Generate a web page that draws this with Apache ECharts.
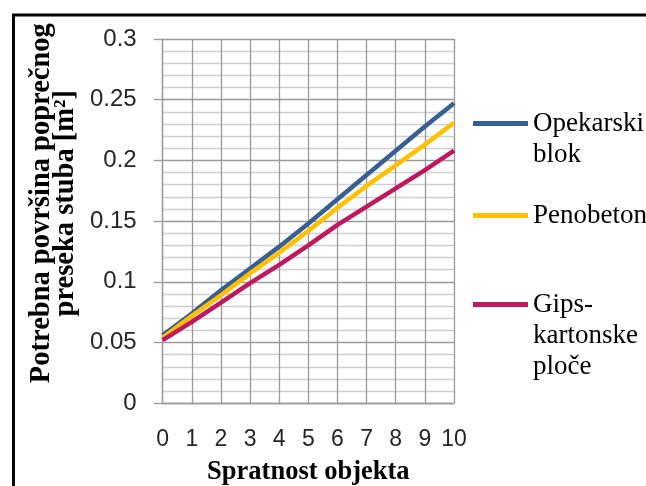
<!DOCTYPE html>
<html><head><meta charset="utf-8">
<script src="https://cdn.jsdelivr.net/npm/echarts@6/dist/echarts.min.js"></script>
<style>html,body{margin:0;padding:0;background:#fff}#c{width:646px;height:486px}</style>
</head><body><div id="c"></div>
<script>
const categories = ['0','1','2','3','4','5','6','7','8','9','10'];
const opekarski = [0.056, 0.074, 0.093, 0.111, 0.129, 0.148, 0.168, 0.188, 0.208, 0.228, 0.247];
const penobeton = [0.054, 0.072, 0.089, 0.107, 0.124, 0.142, 0.161, 0.179, 0.196, 0.213, 0.231];
const gips = [0.052, 0.067, 0.083, 0.099, 0.114, 0.130, 0.147, 0.162, 0.177, 0.192, 0.208];
const seriesNames = ['Opekarski\nblok', 'Penobeton', 'Gips-\nkartonske\nploče'];
const colors = ['#376092', '#FFC000', '#C0185F'];
const yTitle = 'Potrebna površina poprečnog\npreseka stuba [m²]';
const xTitle = 'Spratnost objekta';

const chart = echarts.init(document.getElementById('c'), null, {renderer: 'canvas'});
const L = 31;
const serif = '"Liberation Serif", "Times New Roman", serif';
const sans = '"Liberation Sans", Arial, sans-serif';
// pad with blank lines above so the first text line sits level with the legend line
function padded(name) {
  const n = name.split('\n').length;
  return ' \n'.repeat(n - 1) + name;
}
function legendFor(i, top) {
  return {
    show: true, orient: 'vertical', left: 473, top: top, padding: 0,
    icon: 'rect', itemWidth: 55, itemHeight: 5,
    data: [seriesNames[i]],
    formatter: padded,
    textStyle: {fontFamily: serif, fontSize: 27, lineHeight: L, color: '#000'},
    selectedMode: false
  };
}
const lineStyleGrid = {color: '#9a9a9a', width: 1.3};
const option = {
  animation: false,
  backgroundColor: '#fff',
  grid: {left: 162.7, right: 192, top: 39, bottom: 82.7, containLabel: false, outerBoundsMode: 'none'},
  legend: [legendFor(0, 77), legendFor(1, 200), legendFor(2, 227)],
  xAxis: {
    type: 'category', data: categories, boundaryGap: false,
    axisLine: {show: true, lineStyle: lineStyleGrid},
    axisTick: {show: false},
    splitLine: {show: true, interval: 0, lineStyle: lineStyleGrid},
    axisLabel: {interval: 0, fontFamily: sans, fontSize: 23, color: '#262626', margin: 25},
    name: xTitle, nameLocation: 'middle', nameGap: 55,
    nameTextStyle: {fontFamily: serif, fontSize: 26.5, fontWeight: 'bold', color: '#000'}
  },
  yAxis: {
    type: 'value', min: 0, max: 0.3, interval: 0.05,
    axisLine: {show: true, lineStyle: lineStyleGrid},
    axisTick: {show: true, inside: false, length: 9, lineStyle: lineStyleGrid},
    splitLine: {show: true, lineStyle: lineStyleGrid},
    minorTick: {show: false, splitNumber: 5},
    minorSplitLine: {show: true, lineStyle: {color: '#d0d0d0', width: 1.3}},
    axisLabel: {fontFamily: sans, fontSize: 24, color: '#262626', margin: 26},
    name: yTitle, nameLocation: 'middle', nameRotate: 90, nameGap: 85,
    nameTextStyle: {fontFamily: serif, fontSize: 28.5, fontWeight: 'bold', color: '#000', lineHeight: 24, padding: [0, 0, 0, 36]}
  },
  series: [opekarski, penobeton, gips].map((d, i) => ({
    name: seriesNames[i], type: 'line', data: d, showSymbol: false, symbol: 'none',
    lineStyle: {color: colors[i], width: 4.5}, itemStyle: {color: colors[i]}
  })),
  graphic: [{
    type: 'rect', left: 11, top: 12.5,
    shape: {width: 700, height: 600},
    style: {fill: 'none', stroke: '#000', lineWidth: 3}, silent: true, z: 100
  }]
};
chart.setOption(option);
</script></body></html>
